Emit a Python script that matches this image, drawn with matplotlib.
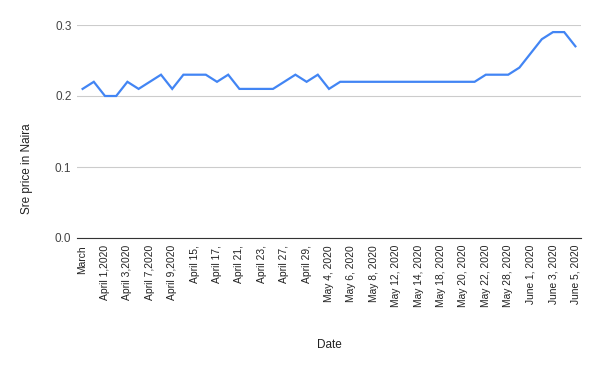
import matplotlib
matplotlib.use("Agg")
import matplotlib.pyplot as plt

tick_labels = ["March", "April 1,2020", "April 3,2020", "April 7,2020", "April 9,2020",
               "April 15,", "April 17,", "April 21,", "April 23,", "April 27,", "April 29,",
               "May 4, 2020", "May 6, 2020", "May 8, 2020", "May 12, 2020", "May 14, 2020",
               "May 18, 2020", "May 20, 2020", "May 22, 2020", "May 28, 2020",
               "June 1, 2020", "June 3, 2020", "June 5, 2020"]
prices = [0.21, 0.22, 0.20, 0.20, 0.22, 0.21, 0.22, 0.23, 0.21, 0.23,
          0.23, 0.23, 0.22, 0.23, 0.21, 0.21, 0.21, 0.21, 0.22, 0.23,
          0.22, 0.23, 0.21, 0.22, 0.22, 0.22, 0.22, 0.22, 0.22, 0.22,
          0.22, 0.22, 0.22, 0.22, 0.22, 0.22, 0.23, 0.23, 0.23, 0.24,
          0.26, 0.28, 0.29, 0.29, 0.27]
y_ticks = [0.0, 0.1, 0.2, 0.3]

plt.rcParams['font.family'] = ['Liberation Sans', 'DejaVu Sans']

fig = plt.figure(figsize=(6, 3.71), dpi=100)
ax = fig.add_axes([77/600, 1-238/371, (581-77)/600, (238-25)/371])

x = list(range(len(prices)))
ax.plot(x, prices, color='#4285F4', linewidth=1.6, solid_joinstyle='miter')

ax.set_xlim(-0.5, len(prices) - 0.5)
ax.set_ylim(0, 0.3)
ax.set_yticks(y_ticks)
ax.set_yticklabels([f"{v:.1f}" for v in y_ticks], fontsize=8.5, color='#444444')
ax.set_xticks(x[::2])
ax.set_xticklabels(tick_labels, rotation=90, fontsize=7.4, color='#222222')
ax.tick_params(axis='y', length=0, pad=4)
ax.tick_params(axis='x', length=0, pad=5)
ax.grid(axis='y', color='#cccccc', linewidth=0.8)
ax.set_axisbelow(True)
for s in ['top', 'right', 'left']:
    ax.spines[s].set_visible(False)
ax.spines['bottom'].set_color('#333333')
ax.spines['bottom'].set_linewidth(0.8)

fig.text((77+581)/2/600, 1-345/371, "Date", ha='center', va='center', fontsize=8.5, color='#222222')
fig.text(27/600, 1-169/371, "Sre price in Naira", ha='center', va='center', rotation=90,
         fontsize=8.5, color='#222222')

fig.savefig("out.png", dpi=100, facecolor='white')
